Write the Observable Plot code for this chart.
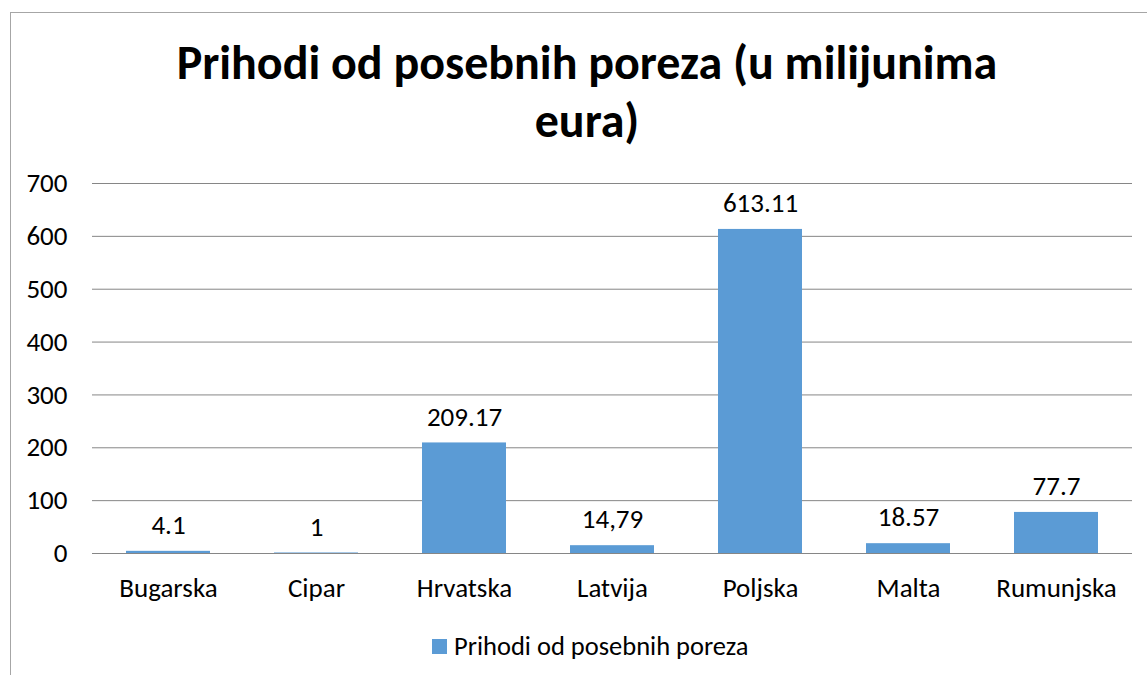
<!DOCTYPE html>
<html>
<head>
<meta charset="utf-8">
<script src="https://cdn.jsdelivr.net/npm/d3@7"></script>
<script src="https://cdn.jsdelivr.net/npm/@observablehq/plot@0.6"></script>
<style>
  html, body { margin: 0; padding: 0; background: #fff; }
  body { width: 1147px; height: 675px; overflow: hidden; position: relative; font-family: Carlito, Lato, "Open Sans", sans-serif; color: #000; }
  #frame { position: absolute; left: 10px; top: 12px; width: 1160px; height: 700px; border: 1.5px solid #a6a6a6; box-sizing: border-box; }
  #title { position: absolute; left: 137px; width: 900px; top: 34px; text-align: center; font-weight: bold; font-size: 48px; line-height: 58px; }
  #chart { position: absolute; left: 0; top: 0; }
  #legend { position: absolute; left: 432px; top: 630px; font-size: 26.5px; display: flex; align-items: center; white-space: nowrap; }
  #legend .sw { width: 15px; height: 15px; background: #5b9bd5; margin-right: 7px; }
</style>
</head>
<body>
<div id="frame"></div>
<div id="title">Prihodi od posebnih poreza (u milijunima eura)</div>
<div id="chart"></div>
<div id="legend"><span class="sw"></span><span>Prihodi od posebnih poreza</span></div>
<script>
const countries = ["Bugarska", "Cipar", "Hrvatska", "Latvija", "Poljska", "Malta", "Rumunjska"];
const values = [4.1, 1, 209.17, 14.79, 613.11, 18.57, 77.7];
const valueLabels = ["4.1", "1", "209.17", "14,79", "613.11", "18.57", "77.7"];
const yTicks = [0, 100, 200, 300, 400, 500, 600, 700];
const seriesName = "Prihodi od posebnih poreza";

const data = countries.map((c, i) => ({country: c, value: values[i], label: valueLabels[i]}));
const FS = 27;

const chart = Plot.plot({
  width: 1147,
  height: 620,
  marginTop: 183,
  marginBottom: 67,
  marginLeft: 92,
  marginRight: 15,
  style: {fontFamily: "Carlito, Lato, 'Open Sans', sans-serif", fontSize: FS + "px", color: "#000", background: "transparent"},
  x: {domain: countries, paddingInner: 0.435, paddingOuter: 0.2175, label: null},
  y: {domain: [0, 700], label: null},
  marks: [
    Plot.gridY(yTicks, {stroke: "#868686", strokeOpacity: 1, strokeWidth: 1}),
    Plot.barY(data, {x: "country", y: "value", fill: "#5b9bd5"}),
    Plot.ruleY([0], {stroke: "#868686", strokeWidth: 1}),
    Plot.axisX({tickSize: 0, tickPadding: 24, fontSize: FS, label: null, fill: "#000"}),
    Plot.axisY(yTicks, {tickSize: 0, tickPadding: 25, fontSize: FS, label: null, fill: "#000"}),
    Plot.text(data, {x: "country", y: "value", text: "label", dy: -26, fontSize: FS, fill: "#000"})
  ]
});
document.getElementById("chart").appendChild(chart);
</script>
</body>
</html>
